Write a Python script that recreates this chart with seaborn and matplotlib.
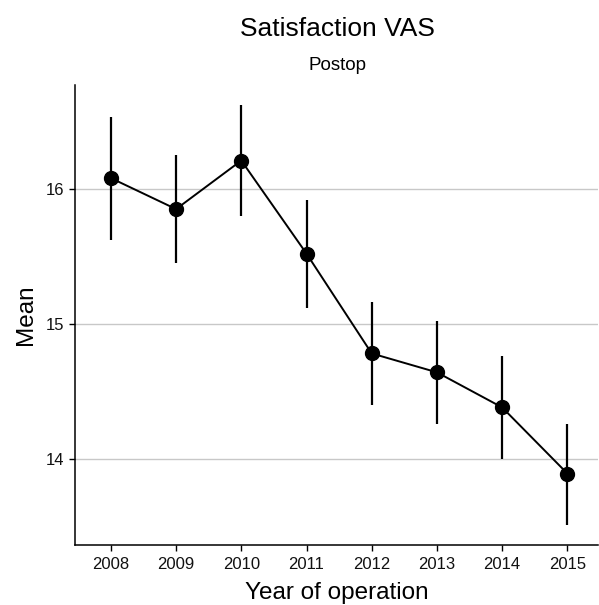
import numpy as np
import pandas as pd
import seaborn as sns
import matplotlib
matplotlib.use("Agg")
import matplotlib.pyplot as plt

years = ["2008", "2009", "2010", "2011", "2012", "2013", "2014", "2015"]
means = [16.08, 15.85, 16.21, 15.52, 14.78, 14.64, 14.38, 13.89]
lower = [15.62, 15.45, 15.80, 15.12, 14.40, 14.26, 14.00, 13.51]
upper = [16.53, 16.25, 16.62, 15.92, 15.16, 15.02, 14.76, 14.26]
yticks = [14, 15, 16]

sns.set_theme(style="white")
plt.rcParams['font.family'] = ['Liberation Sans', 'DejaVu Sans']

df = pd.DataFrame({"year": years, "mean": means, "lower": lower, "upper": upper})

fig, ax = plt.subplots(figsize=(5.99, 6.05), dpi=100)
fig.subplots_adjust(left=75/599, right=598/599, top=1-85/605, bottom=1-545/605)

ax.vlines(np.arange(len(years)), df["lower"], df["upper"], color="black", lw=1.6, zorder=3)
sns.pointplot(data=df, x="year", y="mean", order=years, color="black", errorbar=None,
              markers="o", markersize=10, markeredgewidth=1, linewidth=1.4, ax=ax, zorder=4)

ax.set_xlim(-0.55, 7.47)
ax.set_ylim(13.36, 16.77)
ax.set_yticks(yticks)
ax.set_yticklabels([str(t) for t in yticks])
ax.yaxis.grid(True, color="#C8C8C8", lw=1)
ax.xaxis.grid(False)
ax.set_axisbelow(True)
for s in ["top", "right"]:
    ax.spines[s].set_visible(False)
for s in ["left", "bottom"]:
    ax.spines[s].set_color("black")
    ax.spines[s].set_linewidth(1.1)
ax.tick_params(axis="both", bottom=True, left=True, length=4, width=1, color="black",
               direction="out", labelsize=12, labelcolor="#111111", pad=3.4)
ax.tick_params(axis="x", pad=4.5)

ax.set_xlabel("Year of operation", fontsize=17.5, labelpad=7, color="black")
ax.set_ylabel("Mean", fontsize=17.5, labelpad=7, color="black")

fig.text(337/599, 1-36/605, "Satisfaction VAS", ha="center", va="baseline", fontsize=19, color="black")
fig.text(337/599, 1-70/605, "Postop", ha="center", va="baseline", fontsize=13.5, color="black")

fig.savefig("out.png", dpi=100)
